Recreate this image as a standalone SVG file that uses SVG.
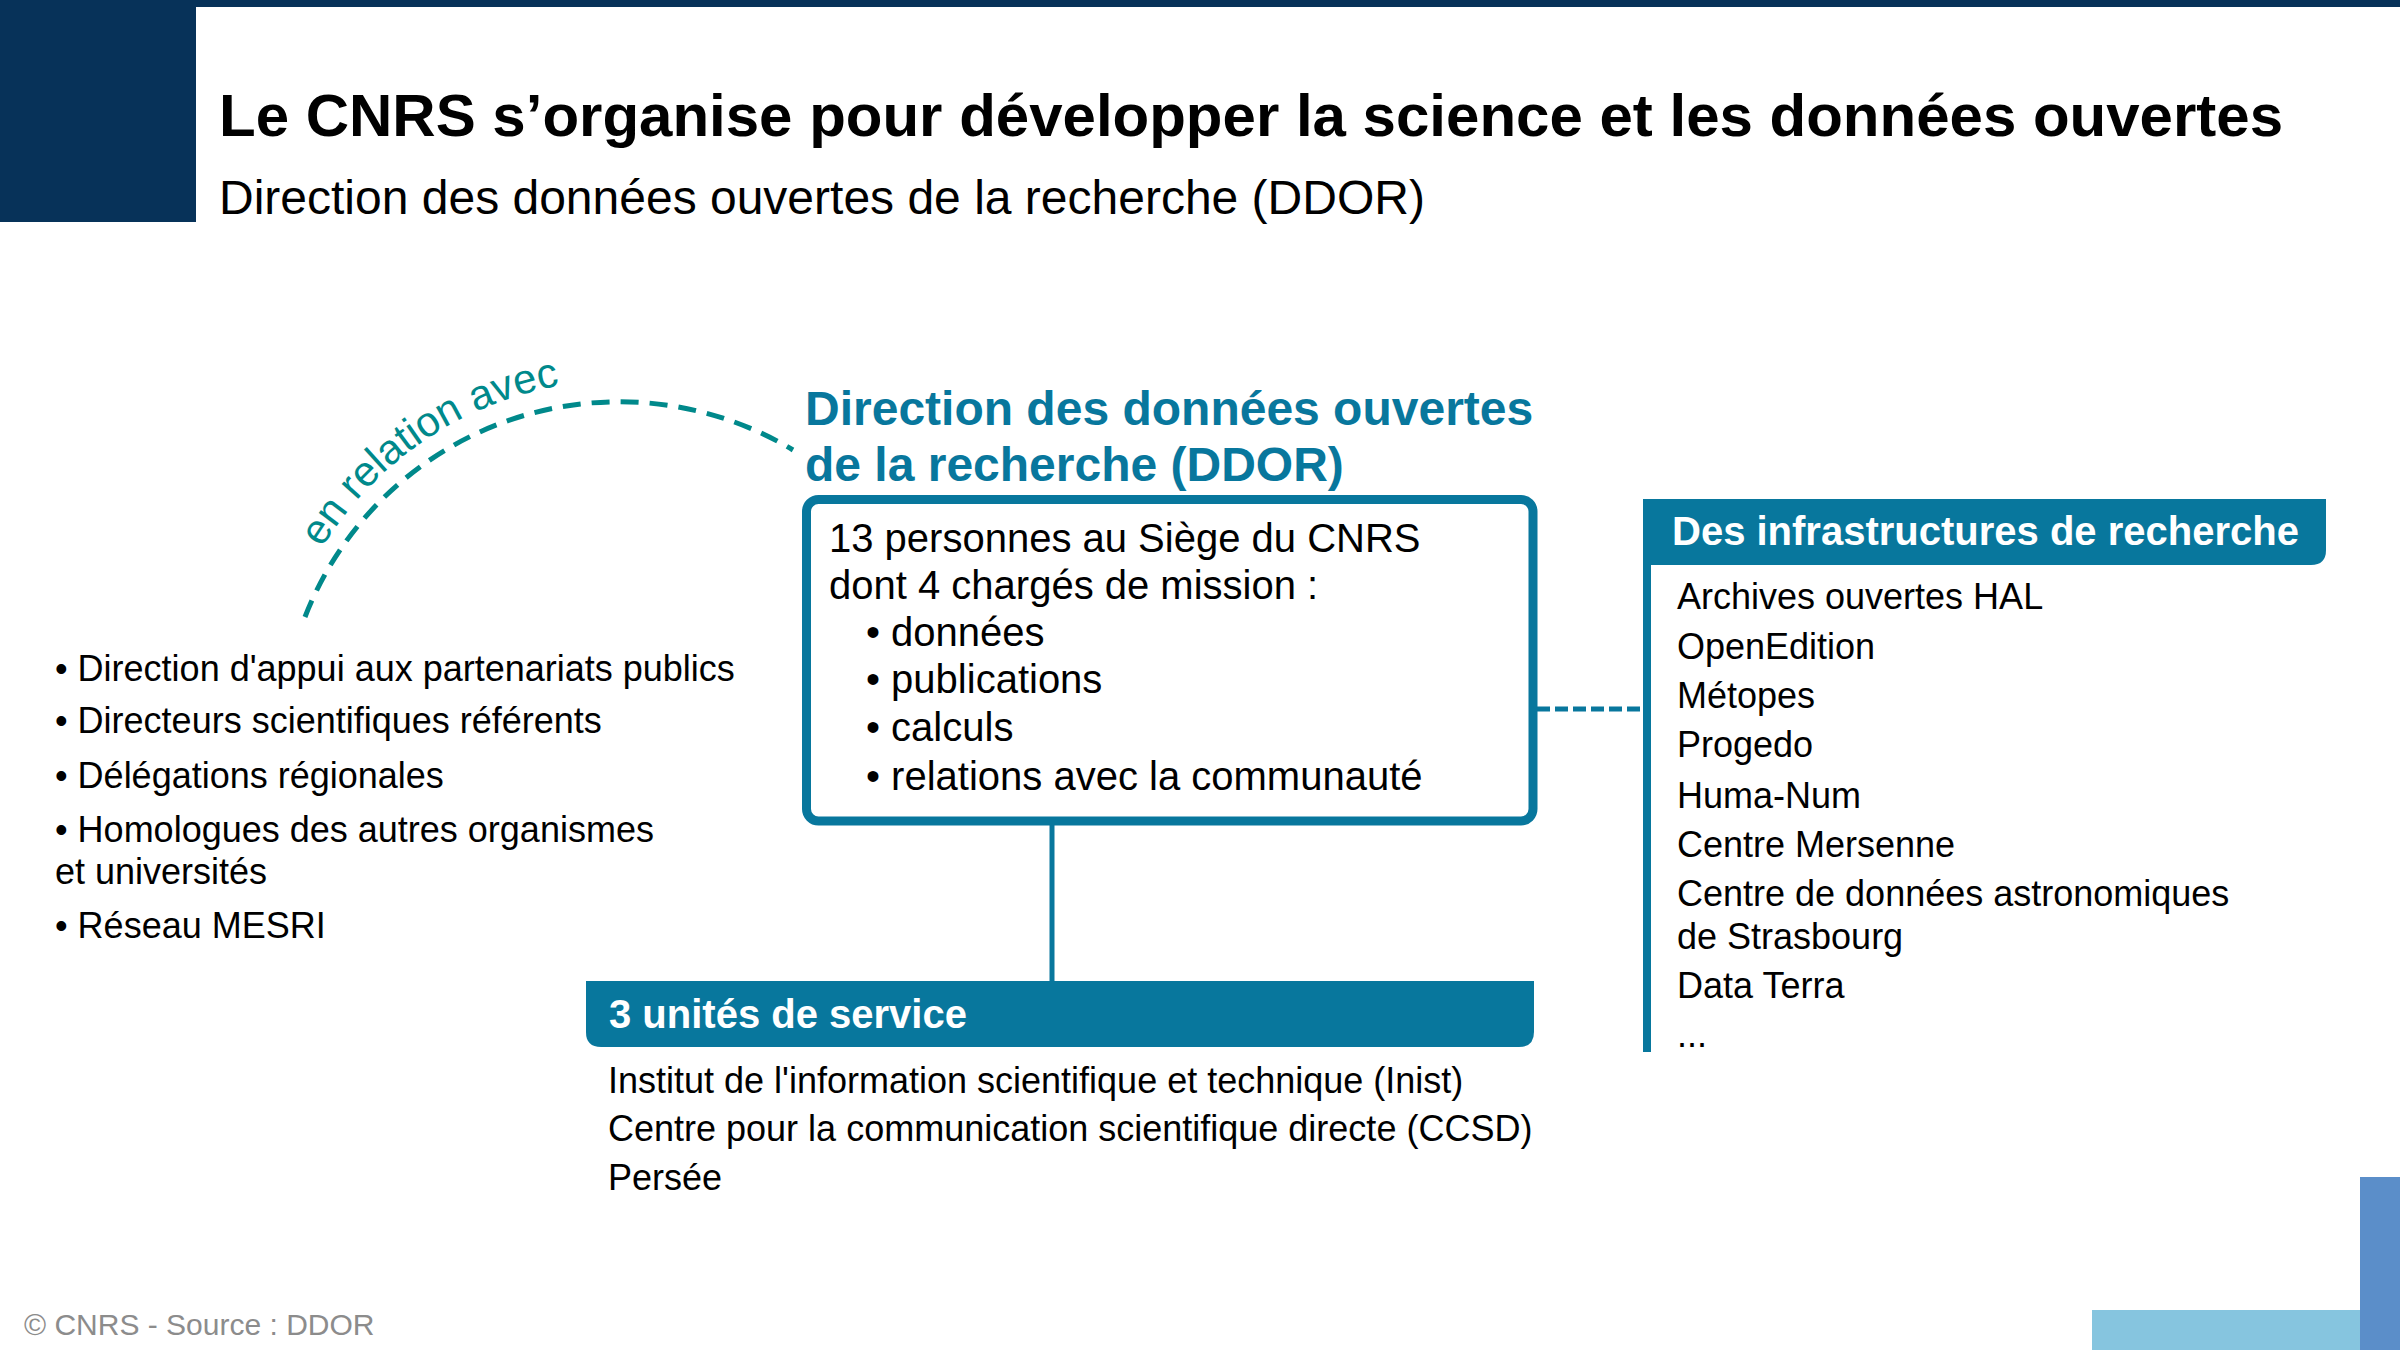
<svg xmlns="http://www.w3.org/2000/svg" width="2400" height="1350" viewBox="0 0 2400 1350">
<defs>
<style>
text{font-family:"Liberation Sans",Arial,sans-serif;}
.title{font-size:60px;font-weight:bold;fill:#000;}
.sub{font-size:48px;fill:#000;}
.head{font-size:48px;font-weight:bold;fill:#08779d;}
.box{font-size:40px;fill:#000;}
.item{font-size:36px;fill:#000;}
.bar{font-size:40px;font-weight:bold;fill:#fff;}
.blue{fill:#08779d;}
.foot{font-size:30px;fill:#8c8c8c;}
.arctext{font-size:42px;fill:#00898b;}
</style>
<path id="textArc" d="M 322 548 A 350 350 0 0 1 710 392"/>
</defs>
<rect width="2400" height="1350" fill="#fff"/>
<g id="decor">
<rect x="0" y="0" width="2400" height="7" fill="#073259"/>
<rect x="0" y="0" width="196" height="222" fill="#073259"/>
<rect x="2092" y="1310" width="268" height="40" fill="#86c5df"/>
<rect x="2360" y="1177" width="40" height="173" fill="#5b8ec9"/>
</g>
<g id="header">
<text class="title" x="219" y="136">Le CNRS s’organise pour développer la science et les données ouvertes</text>
<text class="sub" x="219" y="214">Direction des données ouvertes de la recherche (DDOR)</text>
</g>
<g id="connectors" fill="none">
<path d="M 305 617 A 337 337 0 0 1 793 450" stroke="#00898b" stroke-width="5" stroke-dasharray="18 11"/>
<line x1="1537" y1="709" x2="1643" y2="709" stroke="#08779d" stroke-width="5" stroke-dasharray="13 5"/>
<line x1="1052" y1="825" x2="1052" y2="981" stroke="#08779d" stroke-width="5"/>
</g>
<g id="relation-label">
<text class="arctext"><textPath href="#textArc">en relation avec</textPath></text>
</g>
<g id="ddor">
<text class="head" x="805" y="425">Direction des données ouvertes</text>
<text class="head" x="805" y="481">de la recherche (DDOR)</text>
<rect x="806.5" y="499.5" width="726.5" height="321.5" rx="12" fill="none" stroke="#08779d" stroke-width="9"/>
<text class="box" x="829" y="552">13 personnes au Siège du CNRS</text>
<text class="box" x="829" y="599">dont 4 chargés de mission :</text>
<text class="box" x="866" y="646">• données</text>
<text class="box" x="866" y="693">• publications</text>
<text class="box" x="866" y="741">• calculs</text>
<text class="box" x="866" y="790">• relations avec la communauté</text>
</g>
<g id="partners">
<text class="item" x="55" y="681">• Direction d'appui aux partenariats publics</text>
<text class="item" x="55" y="733">• Directeurs scientifiques référents</text>
<text class="item" x="55" y="788">• Délégations régionales</text>
<text class="item" x="55" y="842">• Homologues des autres organismes</text>
<text class="item" x="55" y="884">et universités</text>
<text class="item" x="55" y="938">• Réseau MESRI</text>
</g>
<g id="services">
<path class="blue" d="M586 981 H1534 V1032 Q1534 1047 1519 1047 H601 Q586 1047 586 1032 Z"/>
<text class="bar" x="609" y="1028">3 unités de service</text>
<text class="item" x="608" y="1093">Institut de l'information scientifique et technique (Inist)</text>
<text class="item" x="608" y="1141">Centre pour la communication scientifique directe (CCSD)</text>
<text class="item" x="608" y="1190">Persée</text>
</g>
<g id="infrastructures">
<rect class="blue" x="1643" y="499" width="8" height="553"/>
<path class="blue" d="M1643 499 H2326 V550 Q2326 565 2311 565 H1643 Z"/>
<text class="bar" x="1672" y="545">Des infrastructures de recherche</text>
<text class="item" x="1677" y="609">Archives ouvertes HAL</text>
<text class="item" x="1677" y="659">OpenEdition</text>
<text class="item" x="1677" y="708">Métopes</text>
<text class="item" x="1677" y="757">Progedo</text>
<text class="item" x="1677" y="808">Huma-Num</text>
<text class="item" x="1677" y="857">Centre Mersenne</text>
<text class="item" x="1677" y="906">Centre de données astronomiques</text>
<text class="item" x="1677" y="949">de Strasbourg</text>
<text class="item" x="1677" y="998">Data Terra</text>
<text class="item" x="1677" y="1047">...</text>
</g>
<g id="footer">
<text class="foot" x="24" y="1335">© CNRS - Source : DDOR</text>
</g>
</svg>
